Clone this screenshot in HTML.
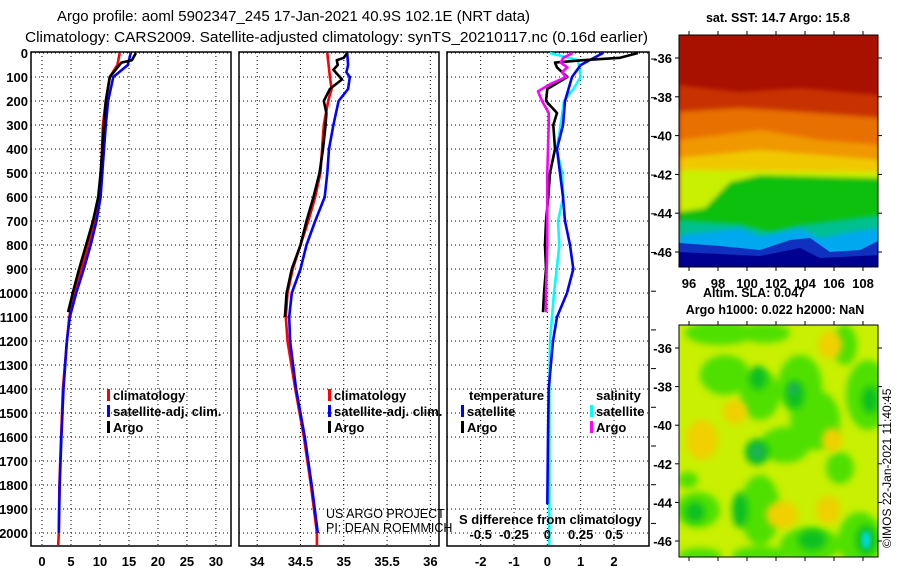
<!DOCTYPE html>
<html><head><meta charset="utf-8">
<style>
html,body{margin:0;padding:0;background:#fff;}
svg{display:block;font-family:"Liberation Sans",sans-serif;}
</style></head>
<body>
<svg id="chart" width="900" height="580" viewBox="0 0 900 580" xmlns="http://www.w3.org/2000/svg">
<defs>
<filter id="blur2" x="-30%" y="-30%" width="160%" height="160%"><feGaussianBlur stdDeviation="3.5"/></filter>
<filter id="blur1"><feGaussianBlur stdDeviation="2.5"/></filter>
<clipPath id="clipMap1"><rect x="679" y="35" width="199" height="232"/></clipPath>
<clipPath id="clipMap2"><rect x="679" y="325" width="199" height="232"/></clipPath>
</defs>
<text x="57" y="21" font-size="15" textLength="473" lengthAdjust="spacingAndGlyphs">Argo profile: aoml 5902347_245 17-Jan-2021 40.9S 102.1E (NRT data)</text>
<text x="25" y="42" font-size="15" textLength="623" lengthAdjust="spacingAndGlyphs">Climatology: CARS2009. Satellite-adjusted climatology: synTS_20210117.nc (0.16d earlier)</text>
<g id="plots"></g>

<!-- Map 1: SST -->
<g clip-path="url(#clipMap1)">
<rect x="679" y="35" width="199" height="232" fill="#a81000"/>
<g filter="url(#blur1)">
<path d="M679 85 L740 92 L800 88 L880 95 L880 130 L679 130 Z" fill="#c83000"/>
<path d="M679 112 L740 108 L800 112 L880 118 L880 160 L679 160 Z" fill="#e87000"/>
<path d="M679 140 L760 130 L820 140 L880 145 L880 175 L679 175 Z" fill="#f09800"/>
<path d="M679 158 L760 150 L880 160 L880 190 L679 190 Z" fill="#f0c800"/>
<path d="M679 170 L880 172 L880 215 L679 215 Z" fill="#c8f000"/>
<path d="M730 182 L760 175 L880 178 L880 240 L679 240 L679 212 L705 208 Z" fill="#10c010"/>
</g>
<path d="M679 220 L740 224 L770 232 L800 225 L880 215 L880 267 L679 267 Z" fill="#00c090" filter="url(#blur1)"/>
<path d="M679 235 L740 228 L760 236 L800 228 L820 238 L850 232 L880 228 L880 267 L679 267 Z" fill="#00a8f0" filter="url(#blur1)"/>
<path d="M679 243 L720 246 L760 250 L790 240 L810 238 L830 252 L860 250 L880 240 L880 267 L679 267 Z" fill="#1030c0"/>
<path d="M679 252 L760 256 L800 248 L820 258 L880 255 L880 267 L679 267 Z" fill="#000090"/>
</g>
<rect x="679" y="35" width="199" height="232" fill="none" stroke="#000" stroke-width="1"/>

<!-- Map 2: SLA -->
<g clip-path="url(#clipMap2)">
<rect x="679" y="325" width="199" height="232" fill="#c8f000"/>
<g filter="url(#blur2)" fill="#50e000">
<ellipse cx="720" cy="333" rx="35" ry="12"/><ellipse cx="765" cy="333" rx="25" ry="10"/>
<ellipse cx="725" cy="375" rx="25" ry="20"/><ellipse cx="760" cy="395" rx="20" ry="25"/>
<ellipse cx="800" cy="385" rx="22" ry="30"/><ellipse cx="815" cy="420" rx="25" ry="30"/>
<ellipse cx="785" cy="445" rx="25" ry="18"/><ellipse cx="760" cy="510" rx="20" ry="35"/>
<ellipse cx="698" cy="510" rx="22" ry="18"/><ellipse cx="840" cy="468" rx="14" ry="16"/>
<ellipse cx="868" cy="395" rx="22" ry="35"/><ellipse cx="845" cy="345" rx="12" ry="20"/>
<ellipse cx="810" cy="545" rx="30" ry="18"/><ellipse cx="860" cy="540" rx="22" ry="28"/>
<ellipse cx="760" cy="556" rx="28" ry="10"/><ellipse cx="700" cy="556" rx="22" ry="8"/>
<ellipse cx="688" cy="480" rx="10" ry="8"/>
</g>
<g filter="url(#blur2)" fill="#10c020">
<ellipse cx="758" cy="378" rx="9" ry="12"/><ellipse cx="795" cy="395" rx="9" ry="14"/>
<ellipse cx="757" cy="452" rx="12" ry="13"/><ellipse cx="740" cy="510" rx="8" ry="18"/>
<ellipse cx="812" cy="540" rx="14" ry="10"/><ellipse cx="866" cy="540" rx="10" ry="15"/>
<ellipse cx="870" cy="400" rx="8" ry="14"/><ellipse cx="695" cy="512" rx="10" ry="10"/>
</g>
<g filter="url(#blur2)" fill="#20b060">
<ellipse cx="757" cy="452" rx="6" ry="7"/><ellipse cx="793" cy="389" rx="5" ry="6"/>
</g>
<g filter="url(#blur2)" fill="#f0d000">
<ellipse cx="830" cy="345" rx="12" ry="14"/><ellipse cx="702" cy="440" rx="16" ry="20"/>
<ellipse cx="782" cy="515" rx="16" ry="14"/><ellipse cx="828" cy="510" rx="12" ry="14"/>
<ellipse cx="735" cy="412" rx="12" ry="12"/><ellipse cx="832" cy="440" rx="10" ry="12"/>
</g>
<ellipse cx="866" cy="540" rx="5" ry="9" fill="#00d8d0" filter="url(#blur1)"/>
</g>
<rect x="679" y="325" width="199" height="232" fill="none" stroke="#000" stroke-width="1"/>

<text x="778" y="22" font-size="12.5" font-weight="bold" text-anchor="middle">sat. SST: 14.7 Argo: 15.8</text>
<text x="703" y="297" font-size="12.5" font-weight="bold">Altim. SLA: 0.047</text>
<text x="775" y="314" font-size="12.5" font-weight="bold" text-anchor="middle">Argo h1000: 0.022 h2000: NaN</text>
<text transform="translate(891,548) rotate(-90)" font-size="12">©IMOS 22-Jan-2021 11:40:45</text>
<g id="mapticks"></g>

<script>
// ---------- data ----------
const depthTicks = [0,100,200,300,400,500,600,700,800,900,1000,1100,1200,1300,1400,1500,1600,1700,1800,1900,2000];
const tempTicks = [0,5,10,15,20,25,30];
const salTicks = [34,34.5,35,35.5,36];
const diffTicks = [-2,-1,0,1,2];
const sdiffTicks = [-0.5,-0.25,0,0.25,0.5];
const sdiffLabels = ["-0.5","-0.25","0","0.25","0.5"];

const tClimDepth = [0,50,100,200,300,500,600,700,800,900,1000,1100,1200,1400,1600,1800,2000,2050];
const tClim = [13.4,13.0,11.7,11.0,10.5,10.2,9.8,9.1,8.0,6.8,5.5,4.7,4.3,3.6,3.3,3.0,2.9,2.8];
const tSatDepth = [0,50,100,200,300,500,600,700,800,900,1000,1100,1200,1400,1600,1800,2000];
const tSat = [15.3,14.8,12.3,11.4,11.0,10.4,10.1,9.4,8.4,7.2,5.9,4.8,4.3,3.7,3.35,3.05,2.9];
const tArgoDepth = [0,30,40,100,200,300,500,600,700,800,900,1000,1080];
const tArgo = [16.2,15.5,13.7,11.7,11.0,10.7,10.1,9.7,8.8,7.6,6.4,5.3,4.5];

const sClimDepth = [0,100,150,200,300,400,500,600,700,800,900,1000,1100,1200,1400,1600,1800,2000,2050];
const sClim = [34.81,34.84,34.86,34.82,34.77,34.75,34.73,34.67,34.59,34.50,34.41,34.35,34.33,34.35,34.44,34.54,34.62,34.69,34.69];
const sSatDepth = [0,50,80,100,150,200,300,400,500,600,700,800,900,1000,1100,1200,1400,1600,1800,2000];
const sSat = [35.04,35.05,35.03,35.07,35.05,34.94,34.88,34.83,34.81,34.78,34.67,34.57,34.50,34.40,34.37,34.38,34.45,34.55,34.63,34.70];
const sArgoDepth = [0,20,30,50,70,90,110,150,200,250,300,400,500,600,700,800,900,1000,1100];
const sArgo = [35.04,35.00,34.92,34.93,34.88,34.93,34.98,34.84,34.77,34.80,34.79,34.76,34.72,34.65,34.57,34.50,34.40,34.34,34.32];

const dTSatDepth = [0,50,100,200,300,400,500,600,700,800,900,1000,1100,1200,1400,1600,1880];
const dTSat = [1.67,1.0,0.74,0.53,0.47,0.29,0.38,0.47,0.53,0.68,0.78,0.59,0.29,0.17,0.04,0.02,0.0];
const dTArgoDepth = [0,20,30,40,60,100,150,200,250,300,400,500,600,700,800,900,1000,1080];
const dTArgo = [2.72,2.18,1.07,0.23,0.29,0.6,0.0,-0.04,0.29,0.18,0.23,0.08,0.03,-0.04,-0.07,-0.04,-0.1,-0.13];
const dSSatDepth = [0,30,100,150,200,300,400,500,600,700,800,900,1000,1100,1200,1400,2050];
const dSSat = [0.02,0.23,0.25,0.195,0.125,0.10,0.07,0.11,0.12,0.08,0.09,0.07,0.05,0.035,0.02,0.015,0.015];
const dSArgoDepth = [0,20,40,60,80,100,130,160,200,250,300,500,600,800,1000,1080];
const dSArgo = [0.19,0.12,0.10,0.15,0.11,0.14,0.02,-0.07,-0.04,0.01,0.01,0.0,0.0,0.0,-0.01,-0.01];

const latTicks = [-36,-38,-40,-42,-44,-46];
const lonTicks = [96,98,100,102,104,106,108];

// ---------- axes ----------
const NS = "http://www.w3.org/2000/svg";
const root = document.getElementById('plots');
const Y0 = 52, Y1 = 546;
function yD(d){ return 53 + d*0.24; }
const panels = [
  {x0:31, x1:231, lo:-1.9, hi:32.6},
  {x0:239, x1:439, lo:33.79, hi:36.1},
  {x0:447, x1:649, lo:-3.01, hi:3.05}
];
function xS(p, v){ return p.x0 + (v - p.lo)/(p.hi - p.lo)*(p.x1 - p.x0); }
function mk(tag, attrs, parent){
  const e = document.createElementNS(NS, tag);
  for (const k in attrs) e.setAttribute(k, attrs[k]);
  (parent||root).appendChild(e);
  return e;
}
function txt(s, x, y, size, anchor, bold){
  const t = mk('text', {x:x, y:y, 'font-size':size, 'text-anchor':anchor||'start', 'font-weight':bold?'bold':'normal'});
  t.textContent = s;
  return t;
}

panels.forEach((p, i) => {
  depthTicks.forEach(d => {
    const l = mk('line', {x1:p.x0, x2:p.x1, y1:yD(d), y2:yD(d), stroke:'#000', 'stroke-width':1, 'stroke-dasharray':'1,3'});
    
    
  });
  const xt = i===0 ? tempTicks : i===1 ? salTicks : diffTicks;
  xt.forEach(v => {
    const x = xS(p, v);
    const l = mk('line', {x1:x, x2:x, y1:Y0, y2:Y1, stroke:'#000', 'stroke-width':1, 'stroke-dasharray':'1,3'});
    
    
    const t = txt(String(v), x, 566, 13, 'middle', true);
    
    
  });
  const fr = mk('rect', {x:p.x0, y:Y0, width:p.x1-p.x0, height:Y1-Y0, fill:'none', stroke:'#000', 'stroke-width':1.5});
  
  
});
depthTicks.forEach(d => {
  const t = txt(String(d), 28, yD(d)+5, 13, 'end', true);
  
  
});

// ---------- lines ----------
function line(p, xs, ds, color, name, scale){
  const pts = xs.map((v, k) => xS(p, v*(scale||1)).toFixed(1) + ',' + yD(ds[k]).toFixed(1)).join(' ');
  const pl = mk('polyline', {points:pts, fill:'none', stroke:color, 'stroke-width':2.6, 'stroke-linejoin':'round'});
  
  
}
line(panels[0], tClim, tClimDepth, '#ff0000', 'temp-climatology-line');
line(panels[0], tSat, tSatDepth, '#0000ff', 'temp-satellite-line');
line(panels[0], tArgo, tArgoDepth, '#000000', 'temp-argo-line');
line(panels[1], sClim, sClimDepth, '#ff0000', 'sal-climatology-line');
line(panels[1], sSat, sSatDepth, '#0000ff', 'sal-satellite-line');
line(panels[1], sArgo, sArgoDepth, '#000000', 'sal-argo-line');
line(panels[2], dSSat, dSSatDepth, '#00ffff', 'sal-diff-satellite-line', 4);
line(panels[2], dTSat, dTSatDepth, '#0000ff', 'temp-diff-satellite-line');
line(panels[2], dTArgo, dTArgoDepth, '#000000', 'temp-diff-argo-line');
line(panels[2], dSArgo, dSArgoDepth, '#ff00ff', 'sal-diff-argo-line', 4);

// ---------- legends ----------
function legend(x, y, color, label, name){
  const m = mk('rect', {x:x, y:y-11, width:3, height:12, fill:color});
  
  
  const t = txt(label, x+6, y, 13, 'start', true);
  
  
}
legend(107, 400, '#ff0000', 'climatology', 'legend-temp-climatology');
legend(107, 416, '#0000ff', 'satellite-adj. clim.', 'legend-temp-satellite');
legend(107, 432, '#000000', 'Argo', 'legend-temp-argo');
legend(328, 400, '#ff0000', 'climatology', 'legend-sal-climatology');
legend(328, 416, '#0000ff', 'satellite-adj. clim.', 'legend-sal-satellite');
legend(328, 432, '#000000', 'Argo', 'legend-sal-argo');
let t1 = txt('temperature', 469, 400, 13, 'start', true);


let t2 = txt('salinity', 596, 400, 13, 'start', true);


legend(461, 416, '#0000ff', 'satellite', 'legend-diff-temp-satellite');
legend(461, 432, '#000000', 'Argo', 'legend-diff-temp-argo');
legend(590, 416, '#00ffff', 'satellite', 'legend-diff-sal-satellite');
legend(590, 432, '#ff00ff', 'Argo', 'legend-diff-sal-argo');
let t3 = txt('S difference from climatology', 459, 524, 13, 'start', true);


sdiffTicks.forEach((v, k) => {
  const t = txt(sdiffLabels[k], xS(panels[2], v*4), 539, 13, 'middle', true);
  
  
});
let t4 = txt('US ARGO PROJECT', 326, 518, 12.5, 'start', false);


let t5 = txt('PI: DEAN ROEMMICH', 326, 532, 12.5, 'start', false);



for (let y = 59; y < 546; y += 38.7) {
  mk('line', {x1:651, x2:656, y1:y, y2:y, stroke:'#000', 'stroke-width':1});
}

// ---------- map ticks ----------
const mt = document.getElementById('mapticks');
function latY1(l){ return 58 + (-36 - l)*19.4; }
function latY2(l){ return 348 + (-36 - l)*19.3; }
function lonX(l){ return 689 + (l-96)*14.5; }
latTicks.forEach(l => {
  [latY1(l), latY2(l)].forEach((y, k) => {
    mk('line', {x1:675, x2:679, y1:y, y2:y, stroke:'#000'}, mt);
    mk('line', {x1:878, x2:882, y1:y, y2:y, stroke:'#000'}, mt);
    const t = txt(String(l), 672, y+5, 13, 'end', true);
    mt.appendChild(t);
    
    
  });
});
lonTicks.forEach(l => {
  const x = lonX(l);
  [[31,35],[267,271],[321,325],[557,561]].forEach(s => mk('line', {x1:x, x2:x, y1:s[0], y2:s[1], stroke:'#000'}, mt));
  const t = txt(String(l), x, 288, 13, 'middle', true);
  mt.appendChild(t);
  
  
});
</script>
</svg>
</body></html>
